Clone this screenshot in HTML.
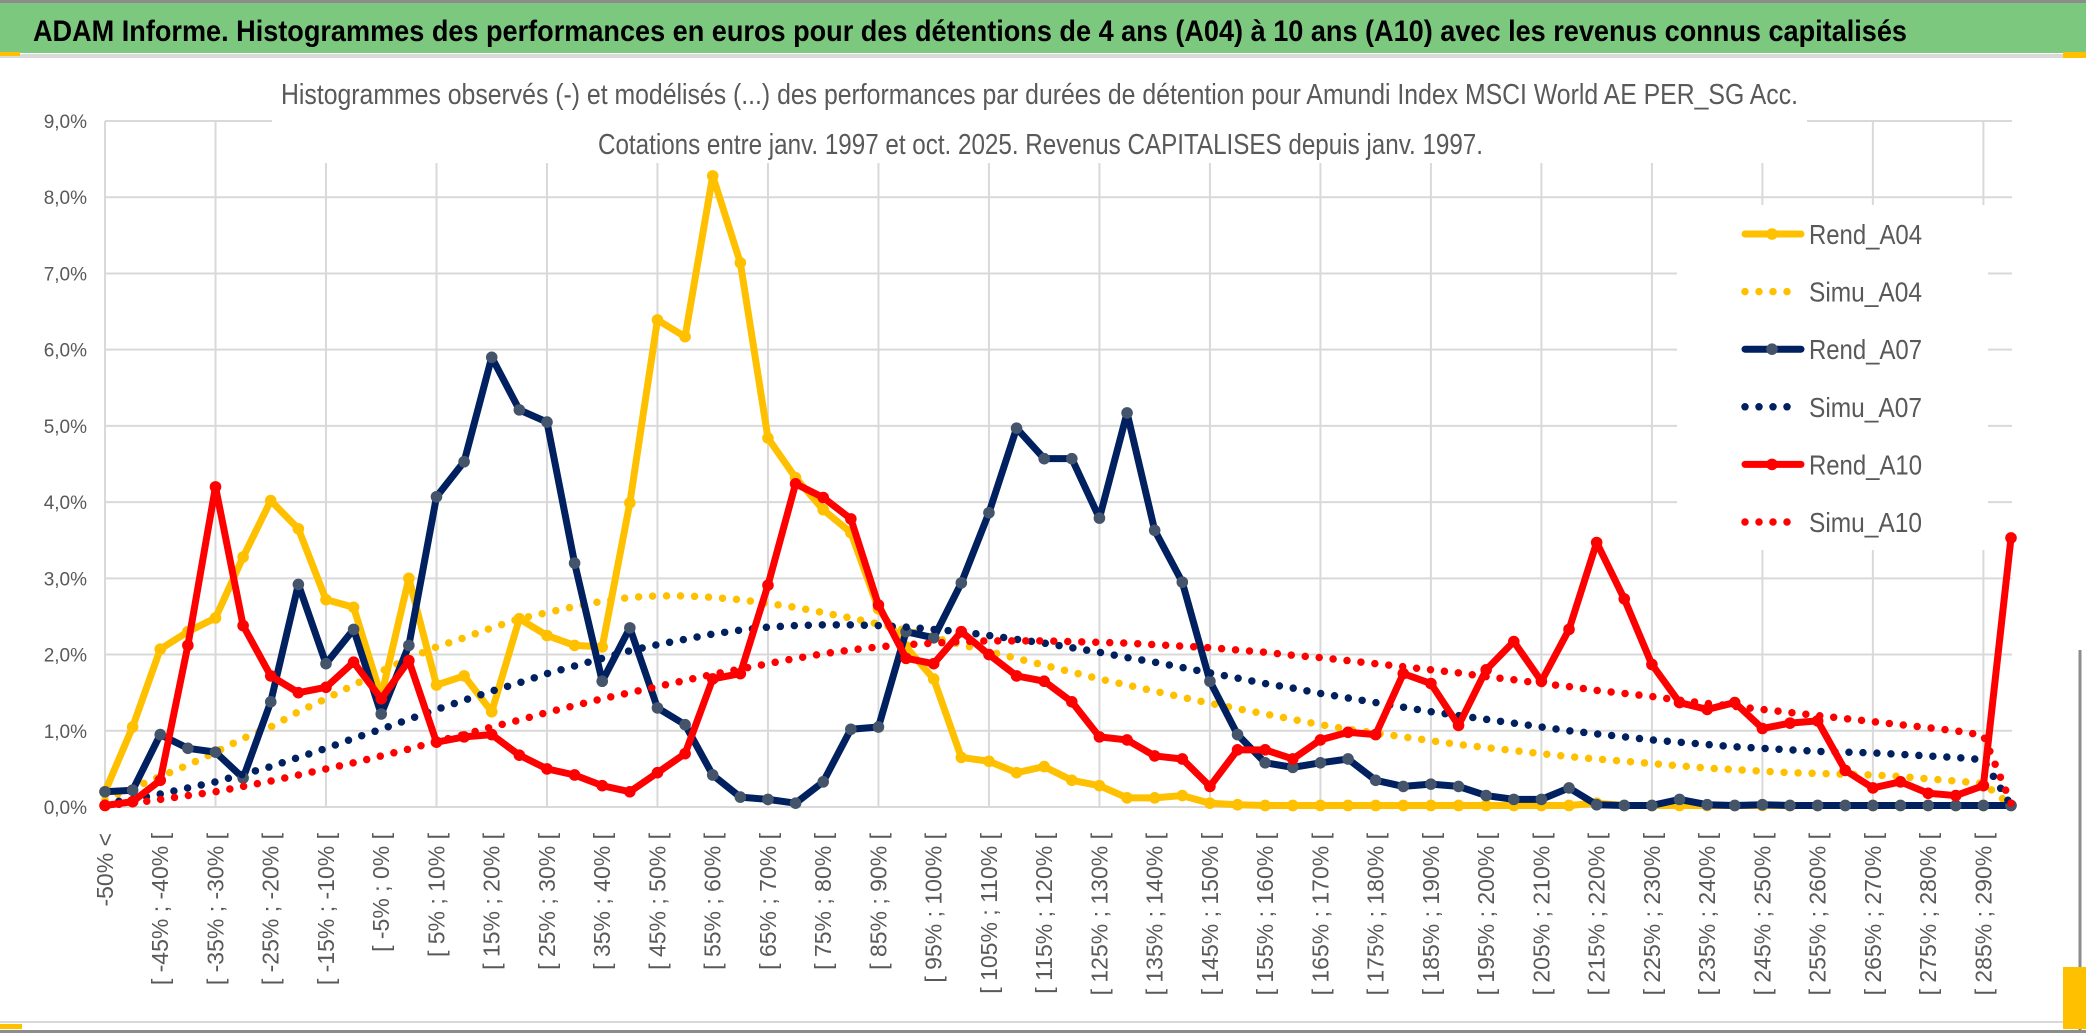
<!DOCTYPE html>
<html><head><meta charset="utf-8"><title>ADAM Informe histogrammes</title>
<style>html,body{margin:0;padding:0;background:#fff;width:2086px;height:1033px;overflow:hidden}svg{display:block;font-family:"Liberation Sans",sans-serif}</style>
</head><body>
<svg id="chart" width="2086" height="1033" viewBox="0 0 2086 1033" xmlns="http://www.w3.org/2000/svg">
<rect x="0" y="0" width="2086" height="1033" fill="#fff"/>
<rect x="0" y="3" width="2086" height="50" fill="#7DC87F"/>
<line x1="0" y1="1.5" x2="2086" y2="1.5" stroke="#8c8c8c" stroke-width="3"/>
<line x1="0" y1="56" x2="2086" y2="56" stroke="#d9d9d9" stroke-width="4"/>
<rect x="0" y="52" width="20" height="4" fill="#FFC000"/>
<rect x="2063" y="52" width="23" height="6" fill="#FFC000"/>
<text x="33" y="41" font-size="30" font-weight="bold" fill="#000" textLength="1874" lengthAdjust="spacingAndGlyphs">ADAM Informe. Histogrammes des performances en euros pour des détentions de 4 ans (A04) à 10 ans (A10) avec les revenus connus capitalisés</text>
<g id="grid"></g>
<rect x="272" y="60" width="1535" height="103" fill="#fff"/>
<text x="281" y="104" font-size="29" fill="#595959" textLength="1517" lengthAdjust="spacingAndGlyphs">Histogrammes observés (-) et modélisés (...) des performances par durées de détention pour Amundi Index MSCI World AE PER_SG Acc.</text>
<text x="598" y="154" font-size="29" fill="#595959" textLength="885" lengthAdjust="spacingAndGlyphs">Cotations entre janv. 1997 et oct. 2025. Revenus CAPITALISES depuis janv. 1997.</text>
<g id="yaxis"></g>
<g id="xaxis"></g>
<g id="series"></g>
<g id="legend"></g>
<line x1="2080" y1="650" x2="2080" y2="1030" stroke="#8c8c8c" stroke-width="3"/>
<line x1="0" y1="1022" x2="2080" y2="1022" stroke="#d9d9d9" stroke-width="2"/>
<line x1="0" y1="1031.5" x2="2086" y2="1031.5" stroke="#8c8c8c" stroke-width="3"/>
<rect x="0" y="1024" width="22" height="5" fill="#FFC000"/>
<rect x="2063" y="967" width="23" height="62" fill="#FFC000"/>
</svg>
<script>
const categories = ["-50% <","[ -50% ; -45% [","[ -45% ; -40% [","[ -40% ; -35% [","[ -35% ; -30% [","[ -30% ; -25% [","[ -25% ; -20% [","[ -20% ; -15% [","[ -15% ; -10% [","[ -10% ; -5% [","[ -5% ; 0% [","[ 0% ; 5% [","[ 5% ; 10% [","[ 10% ; 15% [","[ 15% ; 20% [","[ 20% ; 25% [","[ 25% ; 30% [","[ 30% ; 35% [","[ 35% ; 40% [","[ 40% ; 45% [","[ 45% ; 50% [","[ 50% ; 55% [","[ 55% ; 60% [","[ 60% ; 65% [","[ 65% ; 70% [","[ 70% ; 75% [","[ 75% ; 80% [","[ 80% ; 85% [","[ 85% ; 90% [","[ 90% ; 95% [","[ 95% ; 100% [","[ 100% ; 105% [","[ 105% ; 110% [","[ 110% ; 115% [","[ 115% ; 120% [","[ 120% ; 125% [","[ 125% ; 130% [","[ 130% ; 135% [","[ 135% ; 140% [","[ 140% ; 145% [","[ 145% ; 150% [","[ 150% ; 155% [","[ 155% ; 160% [","[ 160% ; 165% [","[ 165% ; 170% [","[ 170% ; 175% [","[ 175% ; 180% [","[ 180% ; 185% [","[ 185% ; 190% [","[ 190% ; 195% [","[ 195% ; 200% [","[ 200% ; 205% [","[ 205% ; 210% [","[ 210% ; 215% [","[ 215% ; 220% [","[ 220% ; 225% [","[ 225% ; 230% [","[ 230% ; 235% [","[ 235% ; 240% [","[ 240% ; 245% [","[ 245% ; 250% [","[ 250% ; 255% [","[ 255% ; 260% [","[ 260% ; 265% [","[ 265% ; 270% [","[ 270% ; 275% [","[ 275% ; 280% [","[ 280% ; 285% [","[ 285% ; 290% [","[ 290% ; 295% ["];
const yTicks = [0,1,2,3,4,5,6,7,8,9];
const yTickLabels = ["0,0%","1,0%","2,0%","3,0%","4,0%","5,0%","6,0%","7,0%","8,0%","9,0%"];
const rendA04 = [0.2,1.05,2.07,2.3,2.48,3.28,4.02,3.65,2.72,2.62,1.45,3.0,1.6,1.72,1.25,2.47,2.25,2.12,2.1,3.99,6.39,6.17,8.28,7.14,4.84,4.32,3.9,3.6,2.6,2.1,1.68,0.65,0.6,0.45,0.53,0.35,0.28,0.12,0.12,0.15,0.05,0.03,0.02,0.02,0.02,0.02,0.02,0.02,0.02,0.02,0.02,0.02,0.02,0.02,0.05,0.02,0.02,0.02,0.02,0.02,0.02,0.02,0.02,0.02,0.02,0.02,0.02,0.02,0.02,0.02];
const simuA04 = [0.1,0.25,0.4,0.55,0.72,0.9,1.05,1.25,1.42,1.6,1.78,1.95,2.1,2.22,2.35,2.47,2.55,2.63,2.7,2.75,2.77,2.77,2.75,2.72,2.67,2.62,2.55,2.48,2.4,2.32,2.22,2.13,2.04,1.95,1.86,1.77,1.68,1.6,1.52,1.44,1.36,1.29,1.22,1.15,1.08,1.02,0.97,0.92,0.87,0.82,0.78,0.74,0.7,0.66,0.63,0.6,0.57,0.54,0.51,0.49,0.47,0.45,0.44,0.43,0.42,0.4,0.37,0.34,0.31,0.02];
const rendA07 = [0.2,0.22,0.95,0.77,0.72,0.38,1.38,2.92,1.88,2.33,1.22,2.12,4.07,4.53,5.9,5.21,5.05,3.2,1.65,2.35,1.3,1.08,0.42,0.13,0.1,0.05,0.33,1.02,1.05,2.3,2.22,2.94,3.86,4.97,4.57,4.57,3.79,5.17,3.63,2.95,1.65,0.95,0.58,0.52,0.58,0.63,0.35,0.27,0.3,0.27,0.15,0.1,0.1,0.25,0.03,0.02,0.02,0.1,0.03,0.02,0.03,0.02,0.02,0.02,0.02,0.02,0.02,0.02,0.02,0.02];
const simuA07 = [0.05,0.1,0.17,0.25,0.33,0.43,0.53,0.65,0.77,0.9,1.02,1.15,1.28,1.4,1.52,1.63,1.75,1.85,1.95,2.05,2.13,2.2,2.27,2.32,2.36,2.38,2.39,2.39,2.38,2.36,2.33,2.3,2.25,2.2,2.15,2.09,2.03,1.96,1.9,1.83,1.76,1.69,1.62,1.56,1.49,1.43,1.37,1.31,1.25,1.2,1.15,1.1,1.05,1.0,0.96,0.92,0.88,0.85,0.82,0.79,0.77,0.75,0.73,0.72,0.71,0.69,0.67,0.65,0.62,0.02];
const rendA10 = [0.02,0.07,0.35,2.12,4.2,2.38,1.72,1.5,1.57,1.9,1.42,1.92,0.85,0.92,0.95,0.68,0.5,0.42,0.28,0.2,0.45,0.7,1.68,1.75,2.91,4.24,4.06,3.78,2.65,1.95,1.88,2.3,2.0,1.72,1.65,1.38,0.92,0.88,0.67,0.63,0.27,0.75,0.75,0.63,0.88,0.98,0.95,1.75,1.62,1.07,1.8,2.17,1.65,2.33,3.47,2.73,1.87,1.37,1.28,1.37,1.03,1.1,1.13,0.48,0.25,0.33,0.18,0.15,0.28,3.53];
const simuA10 = [0.02,0.05,0.1,0.15,0.2,0.27,0.34,0.42,0.5,0.58,0.67,0.76,0.86,0.95,1.05,1.14,1.24,1.33,1.42,1.5,1.58,1.66,1.74,1.81,1.88,1.95,2.01,2.06,2.1,2.13,2.15,2.17,2.18,2.18,2.18,2.17,2.16,2.15,2.13,2.11,2.09,2.06,2.03,1.99,1.96,1.92,1.88,1.84,1.8,1.76,1.71,1.67,1.62,1.58,1.53,1.49,1.45,1.4,1.36,1.32,1.28,1.24,1.2,1.16,1.12,1.08,1.04,1.0,0.94,0.05];
const seriesNames = ["Rend_A04","Simu_A04","Rend_A07","Simu_A07","Rend_A10","Simu_A10"];

const NS = "http://www.w3.org/2000/svg";
const X0 = 105, X1 = 2011, Y0 = 807, YTOP = 121, YMAX = 9;
function xScale(i){ return X0 + i * (X1 - X0) / (categories.length - 1); }
function yScale(v){ return Y0 - v * (Y0 - YTOP) / YMAX; }
function mk(tag, attrs, parent){ const e = document.createElementNS(NS, tag); for (const k in attrs) e.setAttribute(k, attrs[k]); parent.appendChild(e); return e; }

const grid = document.getElementById('grid');
yTicks.forEach(function(t){
  const l = mk('line', {x1: X0, x2: X1 + 1, y1: yScale(t), y2: yScale(t), stroke: '#d9d9d9', 'stroke-width': 2}, grid);
  
  
});
categories.forEach(function(c, i){
  if (i % 4 !== 0) return;
  const l = mk('line', {x1: xScale(i), x2: xScale(i), y1: YTOP, y2: Y0, stroke: '#d9d9d9', 'stroke-width': 2}, grid);
  
  
});

const yaxis = document.getElementById('yaxis');
yTicks.forEach(function(t, i){
  const tx = mk('text', {x: 87, y: yScale(t) + 7, 'font-size': 19, fill: '#595959', 'text-anchor': 'end'}, yaxis);
  tx.textContent = yTickLabels[i];
  
  
});

const xaxis = document.getElementById('xaxis');
categories.forEach(function(c, i){
  if (i % 2 !== 0) return;
  const x = xScale(i) + 8, y = 833;
  const tx = mk('text', {x: x, y: y, 'font-size': 23, fill: '#595959', 'text-anchor': 'end', transform: 'rotate(-90 ' + x + ' ' + y + ')'}, xaxis);
  tx.textContent = c;
  
  
});

const seriesG = document.getElementById('series');
function pathFor(vals){ return vals.map(function(v, i){ return (i ? 'L' : 'M') + xScale(i).toFixed(2) + ' ' + yScale(v).toFixed(2); }).join(' '); }
function drawSolid(vals, color, markerColor, name){
  const g = mk('g', {}, seriesG);
  
  
  const p = mk('path', {d: pathFor(vals), fill: 'none', stroke: color, 'stroke-width': 7, 'stroke-linejoin': 'round', 'stroke-linecap': 'round'}, g);
  
  
  vals.forEach(function(v, i){
    const c = mk('circle', {cx: xScale(i), cy: yScale(v), r: 5.8, fill: markerColor}, g);
    
    
  });
}
function drawDotted(vals, color, name){
  const p = mk('path', {d: pathFor(vals), fill: 'none', stroke: color, 'stroke-width': 7.5, 'stroke-linecap': 'round', 'stroke-linejoin': 'round', 'stroke-dasharray': '0 14'}, seriesG);
  
  
}
drawSolid(rendA04, '#FFC000', '#FFC000', 'rend-a04-series');
drawDotted(simuA04, '#FFC000', 'simu-a04-series');
drawSolid(rendA07, '#002060', '#44546A', 'rend-a07-series');
drawDotted(simuA07, '#002060', 'simu-a07-series');
drawSolid(rendA10, '#FF0000', '#FF0000', 'rend-a10-series');
drawDotted(simuA10, '#FF0000', 'simu-a10-series');

const legend = document.getElementById('legend');
const lb = mk('rect', {x: 1677, y: 205, width: 311, height: 345, fill: '#fff'}, legend);


const legColors = ['#FFC000','#FFC000','#002060','#002060','#FF0000','#FF0000'];
const legMarkers = ['#FFC000','#FFC000','#44546A','#44546A','#FF0000','#FF0000'];
seriesNames.forEach(function(n, i){
  const cy = 234 + i * 57.6;
  const g = mk('g', {}, legend);
  
  
  if (i % 2 === 0) {
    mk('line', {x1: 1745, x2: 1801, y1: cy, y2: cy, stroke: legColors[i], 'stroke-width': 7, 'stroke-linecap': 'round'}, g);
    mk('circle', {cx: 1772, cy: cy, r: 5.8, fill: legMarkers[i]}, g);
  } else {
    mk('line', {x1: 1745, x2: 1800, y1: cy, y2: cy, stroke: legColors[i], 'stroke-width': 7.5, 'stroke-linecap': 'round', 'stroke-dasharray': '0 14'}, g);
  }
  const t = mk('text', {x: 1809, y: cy + 10, 'font-size': 28, fill: '#595959', textLength: 113, lengthAdjust: 'spacingAndGlyphs'}, g);
  t.textContent = n;
});
</script>
</body></html>
